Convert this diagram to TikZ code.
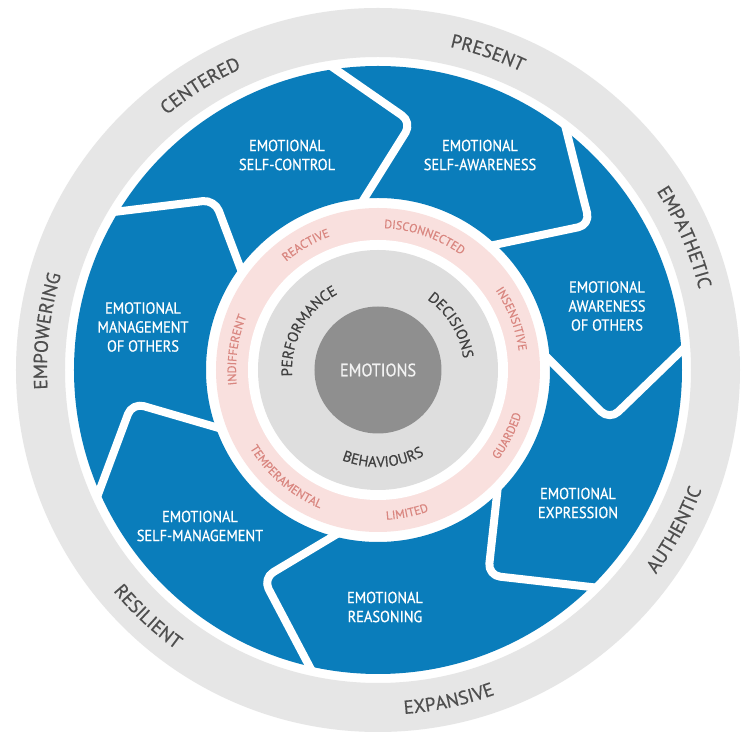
\documentclass[tikz,border=0pt]{standalone}
\usepackage{fontspec}
\setmainfont{PT Sans}
\newfontfamily\narrowfont[FakeStretch=0.9,FakeBold=0.7]{PT Sans}
\newfontfamily\medfont[FakeBold=0.5]{PT Sans}
\usetikzlibrary{decorations.text}
\definecolor{wheelblue}{HTML}{0A7DBB}
\definecolor{ringgray}{HTML}{E6E6E6}
\definecolor{ringtext}{HTML}{4E4E4E}
\definecolor{pinkring}{HTML}{F9E0DE}
\definecolor{pinktext}{HTML}{D98680}
\definecolor{coregray}{HTML}{DEDEDE}
\definecolor{coretext}{HTML}{404040}
\definecolor{heartgray}{HTML}{8F8F8F}
\newcommand{\outerfnt}{\medfont\fontsize{19}{19}\selectfont}
\newcommand{\pinkfnt}{\medfont\fontsize{12}{12}\selectfont}
\newcommand{\corefnt}{\medfont\fontsize{15}{15}\selectfont}
% clockwise label: #1 centre angle, #2 baseline radius, #3 text, #4 colour, #5 font
\newcommand{\cwlabel}[5]{\path[decorate,decoration={text along path,text align=center,text color=#4,text={|#5|#3}}] ({#1+45}:#2) arc[start angle={#1+45},end angle={#1-45},radius=#2];}
% counter-clockwise label
\newcommand{\ccwlabel}[5]{\path[decorate,decoration={text along path,text align=center,text color=#4,text={|#5|#3}}] ({#1-45}:#2) arc[start angle={#1-45},end angle={#1+45},radius=#2];}
\begin{document}
\begin{tikzpicture}[x=1pt,y=1pt,
  sepline/.style={white,line width=8pt,rounded corners=12pt,line join=round,shorten <=-12pt,shorten >=-12pt},
  bluelabel/.style={text=white,align=center,font=\narrowfont\fontsize{16}{19}\selectfont,inner sep=0pt}]
\useasboundingbox (-378,-365) rectangle (372,370);
\fill[white] (-378,-365) rectangle (372,370);
% outer grey ring
\fill[ringgray,even odd rule] (0,0) circle[radius=362] (0,0) circle[radius=313];
% blue wheel
\fill[wheelblue,even odd rule] (0,0) circle[radius=304] (0,0) circle[radius=172];
\begin{scope}
  \clip (0,0) circle[radius=308];
  \foreach \o/\t/\tr/\i in {98.3/82.2/250/94.6, 51.9/34.4/257/46.8, 3.8/-12.2/237/3.3,
      -45.4/-61.8/233/-46.2, -102.9/-118.9/238/-105, -156.3/-172.4/248/-160.6, 148.7/133.8/236/143.3}
    \draw[sepline] (\o:305) -- (\t:\tr) -- (\i:172);
\end{scope}
% pink ring
\fill[pinkring] (0,0) circle[radius=162];
\fill[white] (0,0) circle[radius=130];
\fill[coregray] (0,0) circle[radius=120];
\fill[heartgray] (0,0) circle[radius=63.5];
\node[text=white!95!black,font=\narrowfont\fontsize{18}{18}\selectfont] (emo) at (0,0) {EMOTIONS};
% blue labels
\node[bluelabel] (selfcontrol) at (-91,215) {EMOTIONAL\\SELF-CONTROL};
\node[bluelabel] (selfaware) at (102,215) {EMOTIONAL\\SELF-AWARENESS};
\node[bluelabel] (awareothers) at (229,64) {EMOTIONAL\\AWARENESS\\OF OTHERS};
\node[bluelabel] (expression) at (200,-133) {EMOTIONAL\\EXPRESSION};
\node[bluelabel] (reasoning) at (7,-237) {EMOTIONAL\\REASONING};
\node[bluelabel] (selfmanage) at (-178,-156) {EMOTIONAL\\SELF-MANAGEMENT};
\node[bluelabel] (manageothers) at (-235,43) {EMOTIONAL\\MANAGEMENT\\OF OTHERS};
% outer ring labels
\cwlabel{122}{331}{CENTERED}{ringtext}{\outerfnt}
\cwlabel{70.9}{331}{PRESENT}{ringtext}{\outerfnt}
\cwlabel{23.4}{331}{EMPATHETIC}{ringtext}{\outerfnt}
\cwlabel{173.3}{331}{EMPOWERING}{ringtext}{\outerfnt}
\ccwlabel{-28.3}{345}{AUTHENTIC}{ringtext}{\outerfnt}
\ccwlabel{-77.9}{345}{EXPANSIVE}{ringtext}{\outerfnt}
\ccwlabel{-133}{345}{RESILIENT}{ringtext}{\outerfnt}
% pink ring labels
\cwlabel{120}{142}{REACTIVE}{pinktext}{\pinkfnt}
\cwlabel{70.8}{142}{DISCONNECTED}{pinktext}{\pinkfnt}
\cwlabel{20.9}{142}{INSENSITIVE}{pinktext}{\pinkfnt}
\cwlabel{171.9}{142}{INDIFFERENT}{pinktext}{\pinkfnt}
\ccwlabel{-27}{150}{GUARDED}{pinktext}{\pinkfnt}
\ccwlabel{-78.5}{150}{LIMITED}{pinktext}{\pinkfnt}
\ccwlabel{-130.7}{150}{TEMPERAMENTAL}{pinktext}{\pinkfnt}
% core labels
\cwlabel{151}{86}{PERFORMANCE}{coretext}{\corefnt}
\cwlabel{31.4}{86}{DECISIONS}{coretext}{\corefnt}
\ccwlabel{-86.7}{97}{BEHAVIOURS}{coretext}{\corefnt}
\end{tikzpicture}
\end{document}
